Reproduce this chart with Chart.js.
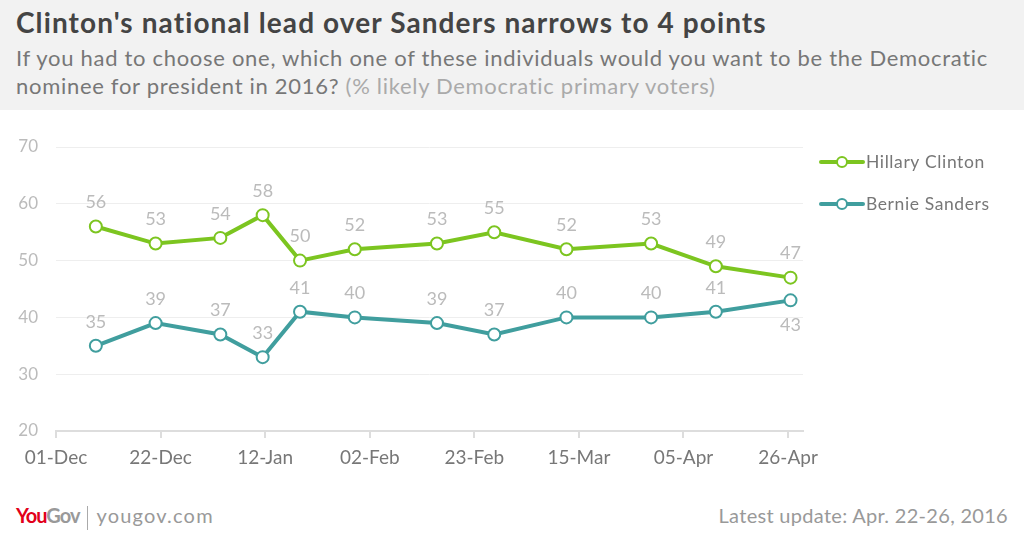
<!DOCTYPE html>
<html>
<head>
<meta charset="utf-8">
<script src="https://cdn.jsdelivr.net/npm/chart.js@4.4.1/dist/chart.umd.min.js"></script>
<style>
  html, body { margin: 0; padding: 0; background: #fff; }
  body { width: 1024px; height: 535px; position: relative; overflow: hidden; font-family: Lato, "Open Sans", sans-serif; }
  #header { position: absolute; left: 0; top: 0; width: 1024px; height: 110px; background: #f2f2f2; }
  #title { position: absolute; left: 16px; top: 5px; font-size: 28px; letter-spacing: 1.1px; font-weight: bold; color: #444; white-space: nowrap; }
  #subtitle { position: absolute; left: 16px; top: 44px; font-size: 22px; letter-spacing: 0.7px; line-height: 28px; color: #777; white-space: nowrap; }
  #subtitle span { color: #aaa; }
  #chartBox { position: absolute; left: 0; top: 110px; width: 1024px; height: 380px; }
  #footer-left { position: absolute; left: 16px; top: 503px; font-size: 20px; color: #999; white-space: nowrap; }
  #footer-left .you { color: #e2001a; font-weight: bold; letter-spacing: -1px; }
  #footer-left .gov { color: #999; font-weight: bold; letter-spacing: -1px; }
  #footer-left .sep { display: inline-block; width: 1px; height: 24px; background: #aaa; vertical-align: middle; margin: 0 8px 0 8px; }
  #footer-left .url { letter-spacing: 1.2px; }
  #footer-right { position: absolute; right: 16px; top: 503px; font-size: 20px; letter-spacing: 0.3px; color: #999; white-space: nowrap; }
</style>
</head>
<body>
<div id="header">
  <div id="title">Clinton's national lead over Sanders narrows to 4 points</div>
  <div id="subtitle">If you had to choose one, which one of these individuals would you want to be the Democratic<br>nominee for president in 2016? <span>(% likely Democratic primary voters)</span></div>
</div>
<div id="chartBox"><canvas id="chart" width="1024" height="380"></canvas></div>
<div id="footer-left"><span class="you">You</span><span class="gov">Gov</span><span class="sep"></span><span class="url">yougov.com</span></div>
<div id="footer-right">Latest update: Apr. 22-26, 2016</div>
<script>
// days counted from 01-Dec-2015
const pollDays = [8, 20, 33, 41.5, 49, 60, 76.5, 88, 102.5, 119.5, 132.5, 147.5];
const clinton = [56, 53, 54, 58, 50, 52, 53, 55, 52, 53, 49, 47];
const sanders = [35, 39, 37, 33, 41, 40, 39, 37, 40, 40, 41, 43];
const tickDays = [0, 21, 42, 63, 84, 105, 126, 147];
const tickLabels = ["01-Dec", "22-Dec", "12-Jan", "02-Feb", "23-Feb", "15-Mar", "05-Apr", "26-Apr"];
const seriesNames = ["Hillary Clinton", "Bernie Sanders"];
const seriesColors = ["#7cc520", "#409e9e"];

const FONT = "Lato, 'Open Sans', sans-serif";

const toPoints = (vals) => vals.map((v, i) => ({ x: pollDays[i], y: v }));

const valueLabels = {
  id: "valueLabels",
  afterDatasetsDraw(chart) {
    const ctx = chart.ctx;
    ctx.save();
    ctx.font = "18px " + FONT;
    ctx.fillStyle = "#bbb";
    ctx.textAlign = "center";
    ctx.textBaseline = "middle";
    chart.data.datasets.forEach((ds, di) => {
      chart.getDatasetMeta(di).data.forEach((pt, i) => {
        const below = di === 1 && i === ds.data.length - 1;
        ctx.fillText(String(ds.data[i].y), pt.x, below ? pt.y + 25 : pt.y - 24);
      });
    });
    ctx.restore();
  }
};

const sideLegend = {
  id: "sideLegend",
  afterDraw(chart) {
    const ctx = chart.ctx;
    ctx.save();
    chart.data.datasets.forEach((ds, i) => {
      const y = 52 + i * 42;
      const x0 = 821;
      ctx.strokeStyle = ds.borderColor;
      ctx.lineWidth = 4;
      ctx.lineCap = "round";
      ctx.beginPath();
      ctx.moveTo(x0, y);
      ctx.lineTo(x0 + 42, y);
      ctx.stroke();
      ctx.beginPath();
      ctx.arc(x0 + 21, y, 5, 0, Math.PI * 2);
      ctx.fillStyle = "#fff";
      ctx.fill();
      ctx.lineWidth = 2;
      ctx.stroke();
      ctx.font = "17.5px " + FONT;
      ctx.fillStyle = "#777";
      ctx.textAlign = "left";
      ctx.textBaseline = "middle";
      ctx.letterSpacing = "0.6px";
      ctx.fillText(ds.label, x0 + 45, y);
    });
    ctx.restore();
  }
};

const makeDataset = (label, vals, color) => ({
  label,
  data: toPoints(vals),
  borderColor: color,
  backgroundColor: "#fff",
  borderWidth: 4,
  pointRadius: 6,
  pointBorderWidth: 2,
  pointBackgroundColor: "#fff",
  pointBorderColor: color,
  tension: 0
});

new Chart(document.getElementById("chart"), {
  type: "line",
  data: {
    datasets: [
      makeDataset(seriesNames[0], clinton, seriesColors[0]),
      makeDataset(seriesNames[1], sanders, seriesColors[1])
    ]
  },
  options: {
    responsive: false,
    animation: false,
    layout: { padding: { top: 37, right: 221, bottom: 0, left: 0 } },
    plugins: { legend: { display: false }, tooltip: { enabled: false } },
    scales: {
      x: {
        type: "linear",
        min: 0,
        max: 150,
        afterFit: (s) => { s.height = 59; },
        afterBuildTicks: (s) => { s.ticks = tickDays.map((v) => ({ value: v })); },
        grid: { drawOnChartArea: false, drawTicks: true, tickLength: 7, color: "#ddd", lineWidth: 2 },
        border: { display: true, color: "#ddd", width: 2 },
        ticks: {
          autoSkip: false,
          maxRotation: 0,
          padding: 8,
          color: "#777",
          font: { family: FONT, size: 19 },
          callback: (v) => tickLabels[tickDays.indexOf(v)]
        }
      },
      y: {
        min: 20,
        max: 70,
        afterFit: (s) => { s.width = 56; },
        grid: { color: "#eee", drawTicks: false },
        border: { display: false },
        ticks: {
          stepSize: 10,
          padding: 18,
          color: "#bbb",
          font: { family: FONT, size: 17 }
        }
      }
    }
  },
  plugins: [valueLabels, sideLegend]
});
</script>
</body>
</html>
